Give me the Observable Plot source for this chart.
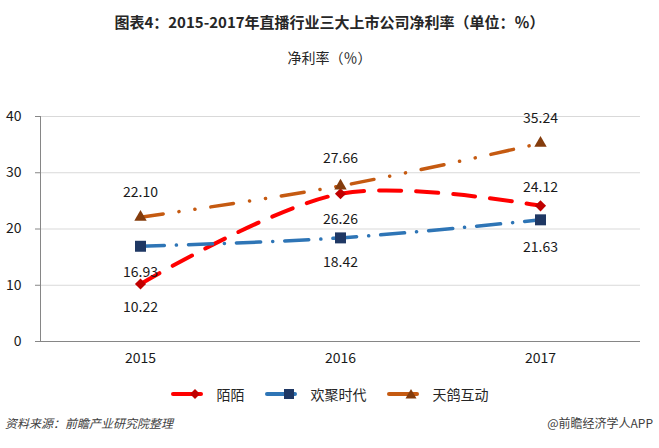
<!DOCTYPE html>
<html><head><meta charset="utf-8">
<script src="https://cdn.jsdelivr.net/npm/d3@7"></script>
<script src="https://cdn.jsdelivr.net/npm/@observablehq/plot@0.6"></script>
<style>
body{margin:0;background:#fff;font-family:"Noto Sans CJK SC","Noto Sans",sans-serif;}
#wrap{position:relative;width:659px;height:448px;overflow:hidden;background:#fff;}
.title{position:absolute;left:0;width:659px;text-align:center;top:11px;font-size:15px;font-weight:bold;color:#262626;line-height:22px;}
.sub{position:absolute;left:0;width:659px;text-align:center;top:46px;font-size:14px;color:#262626;line-height:22px;}
#chart{position:absolute;left:0;top:80px;}
#legend{position:absolute;top:384px;left:0;width:659px;display:flex;justify-content:center;align-items:center;font-size:14px;color:#262626;}
#legend .it{display:flex;align-items:center;margin:0 10px;}
#legend svg{margin-right:14px;}
.foot{position:absolute;top:414px;font-size:12px;color:#404040;font-style:italic;line-height:18px;}
</style></head>
<body><div id="wrap">
<div class="title">图表4：2015-2017年直播行业三大上市公司净利率（单位：％）</div>
<div class="sub">净利率（％）</div>
<div id="chart"></div>
<div id="legend"></div>
<div class="foot" style="left:5px">资料来源：前瞻产业研究院整理</div>
<div class="foot" style="right:6px;font-style:normal">@前瞻经济学人APP</div>
</div>
<script>
const years = ["2015", "2016", "2017"];
const seriesNames = ["陌陌", "欢聚时代", "天鸽互动"];
const momo = [10.22, 26.26, 24.12];
const yy = [16.93, 18.42, 21.63];
const tiange = [22.10, 27.66, 35.24];
const yTicks = [0, 10, 20, 30, 40];

const values = [momo, yy, tiange];
const styles = [
  {line:"#ff0000", mark:"#c00000", symbol:"diamond2", r:5, dash:"22,15", w:4, dy:[24,26,-18]},
  {line:"#2e75b6", mark:"#1f3864", symbol:"square", r:6.2, dash:"24,12,0.1,12", w:3.5, dy:[26,25,28]},
  {line:"#c55a11", mark:"#843c0c", symbol:"triangle", r:4.6, dash:"23,16,0.1,16,0.1,16", w:3.5, dy:[-25,-27,-25]}
];

const marks = [
  Plot.gridY(yTicks.filter(d => d > 0), {stroke:"#d9d9d9", strokeOpacity:1, strokeWidth:1}),
  Plot.ruleY([0], {stroke:"#868686", strokeWidth:1}),
  Plot.frame({anchor:"left", stroke:"#868686"}),
  Plot.axisY({ticks: yTicks, tickSize:5, tickPadding:14, stroke:"#868686", label:null, fontSize:14}),
  Plot.axisX({tickSize:0, tickPadding:12, label:null, fontSize:14})
];
seriesNames.forEach((name, i) => {
  const s = styles[i];
  const rows = years.map((y, j) => ({year:y, value:values[i][j], name, dy:s.dy[j]}));
  marks.push(Plot.line(rows, {x:"year", y:"value", stroke:s.line, strokeWidth:s.w, strokeDasharray:s.dash, strokeLinecap:"round", curve:"catmull-rom"}));
  marks.push(Plot.dot(rows, {x:"year", y:"value", symbol:() => s.symbol, r:s.r, fill:s.mark, stroke:"none"}));
  rows.forEach(r => marks.push(Plot.text([r], {x:"year", y:"value", text: d => d.value.toFixed(2), dy:r.dy, fill:"#1a1a1a", fontSize:14})));
});

const chart = Plot.plot({
  width:659, height:300,
  marginLeft:40, marginRight:19, marginTop:36, marginBottom:39,
  x:{type:"point", domain:years, padding:0.5},
  y:{domain:[0,40]},
  style:{fontFamily:'"Noto Sans CJK SC","Noto Sans",sans-serif', fontSize:"14px", color:"#1a1a1a", background:"transparent"},
  marks
});
document.getElementById("chart").appendChild(chart);

// legend
const lg = document.getElementById("legend");
const symPath = {diamond2:"M24,1 L29,6 L24,11 L19,6Z", square:"M19,1 H29 V11 H19Z", triangle:"M24,1 L29.5,10.5 H18.5Z"};
seriesNames.forEach((name, i) => {
  const s = styles[i];
  const it = document.createElement("div"); it.className = "it";
  it.innerHTML = `<svg width="32" height="12"><line x1="2" y1="6" x2="30" y2="6" stroke="${s.line}" stroke-width="4" stroke-linecap="round"/><path d="${symPath[s.symbol]}" fill="${s.mark}"/></svg><span>${name}</span>`;
  lg.appendChild(it);
});
</script>
</body></html>
